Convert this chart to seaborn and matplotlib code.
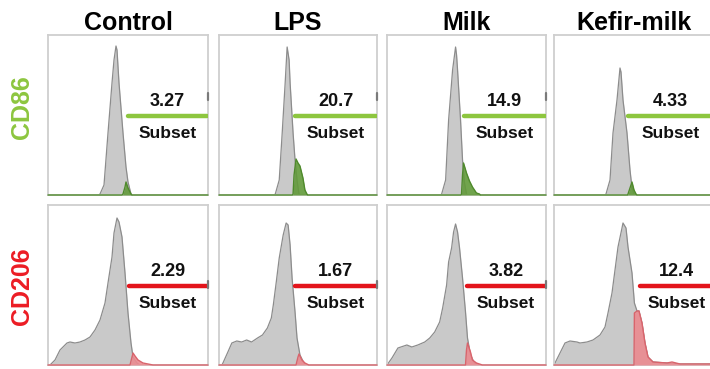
import matplotlib
matplotlib.use("Agg")
import matplotlib.pyplot as plt
import seaborn as sns
import pandas as pd

# ---- labels and gated percentages -------------------------------------------
groups = ["Control", "LPS", "Milk", "Kefir-milk"]
markers = ["CD86", "CD206"]
subset_pct_cd86 = [3.27, 20.7, 14.9, 4.33]
subset_pct_cd206 = [2.29, 1.67, 3.82, 12.4]
gate_start_cd86 = [400, 385, 385, 370]
gate_start_cd206 = [405, 385, 400, 430]
gate_end = 795

# ---- histograms: (channel, count) --------------------------------------------
# whole population
cd86_control_all = [(255, 0), (260, 1), (280, 10), (300, 62), (320, 112), (330, 135), (340, 149),
                    (345, 145), (355, 112), (375, 62), (390, 28), (400, 13), (415, 1), (420, 0)]
cd86_lps_all = [(280, 0), (285, 1), (305, 15), (320, 62), (335, 112), (345, 148), (355, 135),
                (360, 112), (375, 62), (385, 35), (395, 15), (405, 1), (410, 0)]
cd86_milk_all = [(270, 0), (275, 1), (295, 15), (310, 75), (330, 125), (345, 148), (350, 140),
                 (355, 125), (370, 75), (380, 35), (390, 12), (400, 1), (405, 0)]
cd86_kefir_all = [(255, 0), (260, 1), (280, 15), (295, 62), (315, 95), (330, 127), (335, 123),
                  (345, 95), (365, 62), (380, 25), (390, 7), (400, 1), (405, 0)]
cd206_control_all = [(10, 0), (35, 5), (60, 15), (95, 22), (110, 23), (135, 22), (160, 23), (185, 25),
                     (210, 28), (235, 35), (260, 45), (285, 62), (300, 82), (320, 108), (330, 132),
                     (345, 147), (355, 143), (370, 128), (385, 92), (400, 52), (415, 22), (425, 8),
                     (445, 2), (460, 0)]
cd206_lps_all = [(15, 0), (20, 2), (45, 13), (65, 22), (90, 24), (115, 23), (140, 25), (165, 23),
                 (195, 27), (220, 30), (245, 37), (265, 47), (275, 60), (290, 83), (305, 107),
                 (325, 130), (340, 142), (350, 140), (360, 120), (370, 87), (385, 53), (395, 27),
                 (410, 10), (430, 2), (440, 0)]
cd206_milk_all = [(0, 0), (25, 7), (55, 17), (100, 20), (125, 18), (155, 20), (190, 23), (215, 27),
                  (240, 33), (265, 43), (280, 57), (300, 80), (310, 103), (325, 117), (335, 133),
                  (345, 141), (355, 133), (365, 117), (380, 87), (395, 53), (405, 27), (420, 10),
                  (440, 2), (465, 0)]
cd206_kefir_all = [(0, 0), (5, 2), (30, 12), (55, 22), (80, 24), (115, 23), (130, 22), (165, 23),
                   (195, 25), (230, 30), (255, 38), (270, 52), (290, 72), (305, 95), (320, 118),
                   (340, 137), (345, 142), (360, 137), (370, 118), (390, 92), (402, 62), (415, 54),
                   (425, 54), (440, 42), (455, 22), (470, 8), (495, 3), (565, 2), (630, 1), (800, 1)]

# gated (positive) subset
cd86_control_pos = [(0, 0), (370, 0), (375, 1), (385, 8), (390, 13), (400, 7), (415, 1), (420, 0), (800, 0)]
cd86_lps_pos = [(0, 0), (372, 0), (375, 1), (380, 20), (390, 36), (400, 32), (410, 29), (415, 25),
                (425, 17), (435, 5), (445, 1), (450, 0), (800, 0)]
cd86_milk_pos = [(0, 0), (372, 0), (375, 1), (380, 20), (385, 32), (400, 22), (415, 14), (430, 8),
                 (450, 2), (465, 1), (470, 0), (800, 0)]
cd86_kefir_pos = [(0, 0), (368, 0), (370, 1), (380, 7), (390, 13), (400, 5), (410, 1), (415, 0), (800, 0)]
cd206_control_pos = [(0, 0), (410, 0), (425, 12), (435, 9), (450, 5), (475, 2), (525, 0), (800, 0)]
cd206_lps_pos = [(0, 0), (390, 0), (400, 8), (405, 11), (420, 5), (435, 2), (455, 0), (800, 0)]
cd206_milk_pos = [(0, 0), (395, 0), (400, 15), (405, 22), (420, 13), (430, 5), (450, 2), (480, 0), (800, 0)]
cd206_kefir_pos = [(0, 0), (400, 0), (402, 52), (415, 54), (425, 54), (440, 42), (455, 22), (470, 8),
                   (495, 3), (565, 2), (590, 3), (630, 1), (800, 1)]

all_hists = [[cd86_control_all, cd86_lps_all, cd86_milk_all, cd86_kefir_all],
             [cd206_control_all, cd206_lps_all, cd206_milk_all, cd206_kefir_all]]
pos_hists = [[cd86_control_pos, cd86_lps_pos, cd86_milk_pos, cd86_kefir_pos],
             [cd206_control_pos, cd206_lps_pos, cd206_milk_pos, cd206_kefir_pos]]
pcts = [subset_pct_cd86, subset_pct_cd206]
gates = [gate_start_cd86, gate_start_cd206]

# ---- styling -------------------------------------------------------------------
sns.set_theme(style="white")
plt.rcParams["font.family"] = ["Liberation Sans", "DejaVu Sans"]
plt.rcParams["font.weight"] = "bold"

marker_colors = ["#8dc63f", "#ec1c24"]
line_colors = ["#8dc63f", "#e3141b"]
fill_colors = ["#629a3a", "#eb8a90"]
edge_colors = ["#4f8a2c", "#d9646c"]
gray_fill = "#c9c9c9"
gray_edge = "#8c8c8c"
frame_color = "#cfcfcf"

W, H = 710, 369
fig = plt.figure(figsize=(W / 100, H / 100), dpi=100)
fig.patch.set_facecolor("white")

col_left = [48, 219, 387, 554]
col_width = [160, 158, 159, 160]
row_top = [35, 205]
row_h = 160


def to_frame(pairs):
    return pd.DataFrame(pairs, columns=["channel", "count"])


for r in range(2):
    for c in range(4):
        ax = fig.add_axes([col_left[c] / W, 1 - (row_top[r] + row_h) / H,
                           col_width[c] / W, row_h / H])
        ax.set_facecolor("white")
        whole = to_frame(all_hists[r][c])
        pos = to_frame(pos_hists[r][c])

        ax.fill_between(whole["channel"], whole["count"], color=gray_fill, lw=0, zorder=1)
        sns.lineplot(data=whole, x="channel", y="count", ax=ax, color=gray_edge,
                     lw=0.9, sort=False, estimator=None, zorder=2)

        ax.fill_between(pos["channel"], pos["count"], color=fill_colors[r], lw=0,
                        alpha=0.9, zorder=3)
        sns.lineplot(data=pos, x="channel", y="count", ax=ax, color=edge_colors[r],
                     lw=1.0, sort=False, estimator=None, zorder=4, clip_on=False)

        # gate bar, end cap and statistics
        g0 = gates[r][c]
        ax.plot([g0, gate_end], [79, 79], color=line_colors[r], lw=3.2,
                solid_capstyle="round", zorder=5)
        cap = (95, 102) if r == 0 else (77, 84)
        ax.plot([800, 800], cap, color="#7a7a7a", lw=1.6, zorder=6, clip_on=False)
        mid = (g0 + gate_end) / 2
        ax.text(mid, 93, f"{pcts[r][c]:.3g}", ha="center", va="center",
                fontsize=13, fontweight="bold", color="#111111", zorder=7)
        ax.text(mid, 62, "Subset", ha="center", va="center",
                fontsize=12.5, fontweight="bold", color="#111111", zorder=7)

        ax.set_xlim(0, 800)
        ax.set_ylim(0, 160)
        ax.set_xticks([])
        ax.set_yticks([])
        ax.set_xlabel("")
        ax.set_ylabel("")
        for side, sp in ax.spines.items():
            sp.set_visible(True)
            sp.set_color(frame_color)
            sp.set_linewidth(1.3)

        if r == 0:
            ax.set_title(groups[c], fontsize=18, fontweight="bold", color="#000000", pad=3)
        if c == 0:
            ax.text(-0.16, 0.55 if r == 0 else 0.49, markers[r], transform=ax.transAxes,
                    rotation=90, ha="center", va="center", fontsize=18,
                    fontweight="bold", color=marker_colors[r])

fig.savefig("out.png", dpi=100, facecolor="white")
